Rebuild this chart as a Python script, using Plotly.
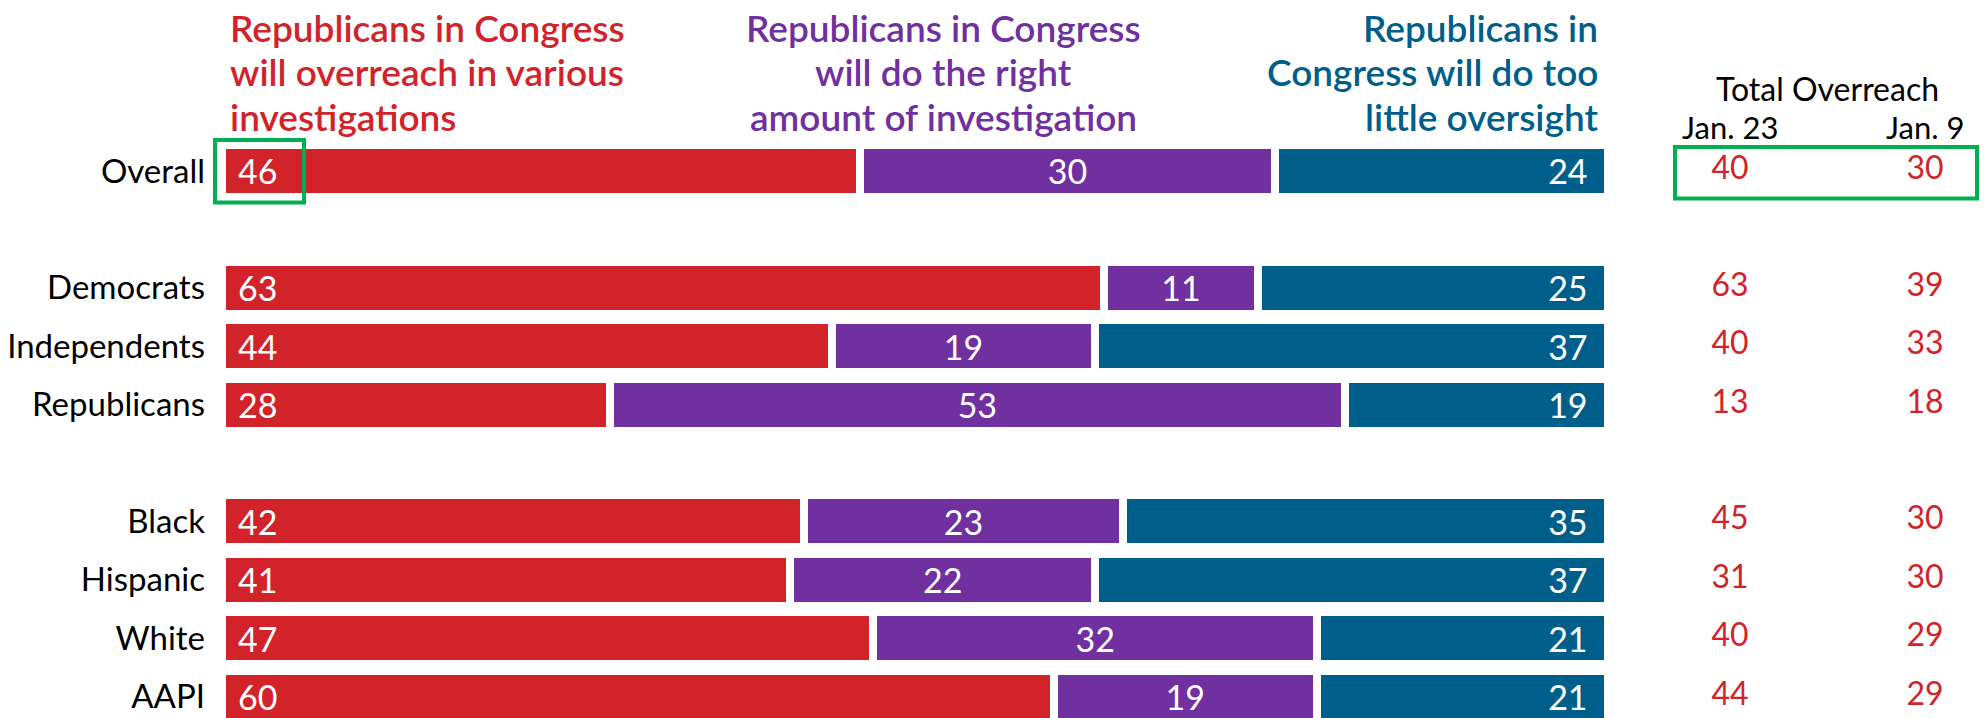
import plotly.graph_objects as go

# ---------------- data ----------------
groups = [
    ["Overall"],
    ["Democrats", "Independents", "Republicans"],
    ["Black", "Hispanic", "White", "AAPI"],
]
categories = [c for g in groups for c in g]
overreach = [46, 63, 44, 28, 42, 41, 47, 60]
right_amount = [30, 11, 19, 53, 23, 22, 32, 19]
too_little = [24, 25, 37, 19, 35, 37, 21, 21]
jan23 = [40, 63, 40, 13, 45, 31, 40, 44]
jan9 = [30, 39, 33, 18, 30, 30, 29, 29]
columns = ["Jan. 23", "Jan. 9"]

header_red = ["Republicans in Congress", "will overreach in various", "investigations"]
header_purple = ["Republicans in Congress", "will do the right", "amount of investigation"]
header_blue = ["Republicans in", "Congress will do too", "little oversight"]

RED = "#D2232A"
PURPLE = "#7030A0"
BLUE = "#005F8A"
GREEN = "#00B050"
FONT = "Lato"
NB = "\u00a0"
THIN = "\u2009"

# row positions: one blank slot between groups
ypos = []
slot = 0
for g in groups:
    for _ in g:
        ypos.append(slot)
        slot += 1
    slot += 1

fig = go.Figure()

for vals, color, anchor in [
    (overreach, RED, "start"),
    (right_amount, PURPLE, "middle"),
    (too_little, BLUE, "end"),
]:
    if anchor == "start":
        labels = [NB + THIN + str(v) for v in vals]
    elif anchor == "end":
        labels = [str(v) + NB * 2 for v in vals]
    else:
        labels = [str(v) for v in vals]
    fig.add_trace(go.Bar(
        x=vals, y=ypos, orientation="h",
        marker=dict(color=color, line=dict(color="white", width=8)),
        width=0.89,
        text=labels,
        textposition="inside", insidetextanchor=anchor,
        constraintext="none", textangle=0,
        textfont=dict(family=FONT, size=34, color="white"),
        hoverinfo="skip", showlegend=False,
        xaxis="x", yaxis="y",
    ))

for col, vals in zip(columns, [jan23, jan9]):
    fig.add_trace(go.Scatter(
        x=[col] * len(vals), y=ypos, mode="text",
        text=[str(v) for v in vals],
        textfont=dict(family=FONT, size=32, color=RED),
        textposition="middle center",
        hoverinfo="skip", showlegend=False,
        xaxis="x2", yaxis="y",
    ))

W, H = 1985, 718
ML, MT = 222, 130
PW = W - ML
PH = H - MT

def px_x(p):
    return (p - ML) / PW

def px_y(p):
    return 1 + (MT - p) / PH

annotations = []
line_centers = [27, 71.5, 116]
for lines, color, xpx, xanchor in [
    (header_red, RED, 228, "left"),
    (header_purple, PURPLE, 943, "center"),
    (header_blue, BLUE, 1600, "right"),
]:
    for line, yc in zip(lines, line_centers):
        annotations.append(dict(text=line, xref="paper", yref="paper",
                                x=px_x(xpx), y=px_y(yc), xanchor=xanchor, yanchor="middle",
                                showarrow=False,
                                font=dict(family=FONT, size=37, color=color, weight=600)))
annotations.append(dict(text="Total Overreach", xref="x2", yref="paper",
                        x=0.5, y=px_y(88), xanchor="center", yanchor="middle",
                        showarrow=False, font=dict(family=FONT, size=32, color="black")))
for col in columns:
    annotations.append(dict(text=col, xref="x2", yref="paper",
                            x=col, y=px_y(127), xanchor="center", yanchor="middle",
                            showarrow=False, font=dict(family=FONT, size=31, color="black")))

overall_y = ypos[categories.index("Overall")]
shapes = [
    dict(type="rect", xref="paper", yref="y",
         x0=px_x(215), x1=px_x(304), y0=overall_y - 0.53, y1=overall_y + 0.54,
         line=dict(color=GREEN, width=4), fillcolor="rgba(0,0,0,0)", layer="above"),
    dict(type="rect", xref="paper", yref="y",
         x0=px_x(1675), x1=px_x(1977), y0=overall_y - 0.41, y1=overall_y + 0.47,
         line=dict(color=GREEN, width=4), fillcolor="rgba(0,0,0,0)", layer="above"),
]

fig.update_layout(
    width=W, height=H,
    margin=dict(l=ML, r=0, t=MT, b=0, pad=0),
    paper_bgcolor="white", plot_bgcolor="white",
    barmode="stack", barnorm="percent",
    font=dict(family=FONT),
    xaxis=dict(domain=[0, 1386 / PW], range=[0, 100], visible=False, fixedrange=True),
    xaxis2=dict(domain=[px_x(1652), px_x(1983.5)], range=[-0.4, 1.3], type="category",
                categoryorder="array", categoryarray=columns, visible=False,
                anchor="y", fixedrange=True),
    yaxis=dict(range=[9.368, -0.702], tickvals=ypos, ticktext=categories,
               showgrid=False, zeroline=False, showline=False, ticks="",
               ticklabelstandoff=16,
               tickfont=dict(family=FONT, size=33, color="black"), fixedrange=True),
    annotations=annotations,
    shapes=shapes,
)

fig.write_html("out.html", config={"displayModeBar": False},
               post_script="document.body.style.margin='0';document.body.style.overflow='hidden';")
